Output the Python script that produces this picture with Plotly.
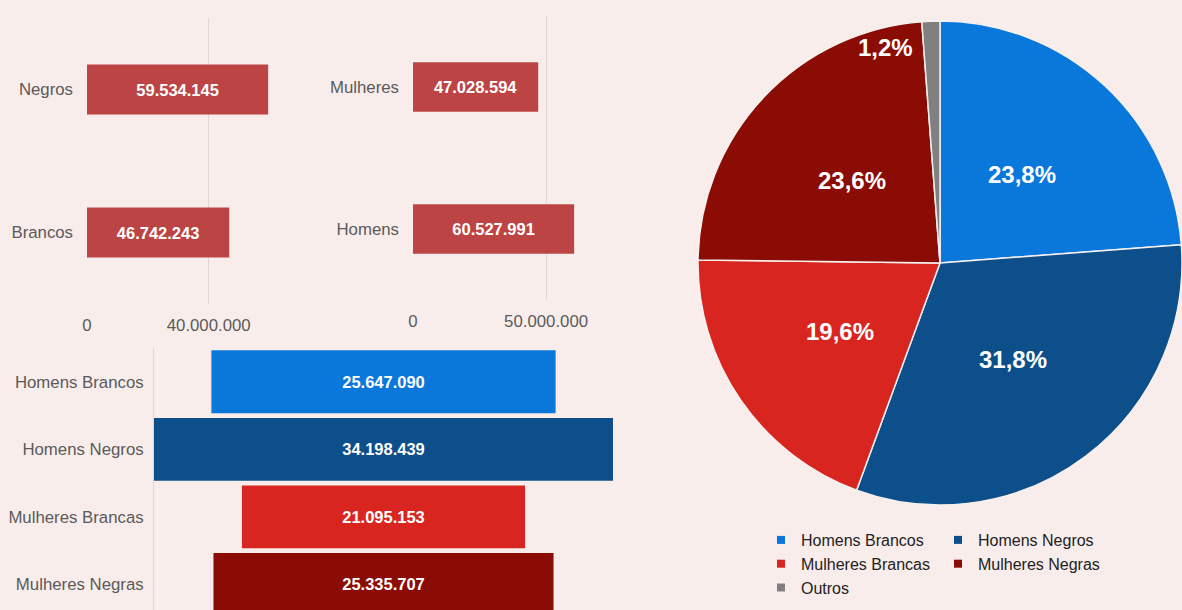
import math
import plotly.graph_objects as go

# ---------------- data ----------------
cor_categorias = ["Negros", "Brancos"]
cor_valores = [59534145, 46742243]
cor_ticks = [0, 40000000]

sexo_categorias = ["Mulheres", "Homens"]
sexo_valores = [47028594, 60527991]
sexo_ticks = [0, 50000000]

grupo_categorias = ["Homens Brancos", "Homens Negros", "Mulheres Brancas", "Mulheres Negras"]
grupo_valores = [25647090, 34198439, 21095153, 25335707]

pie_categorias = ["Homens Brancos", "Homens Negros", "Mulheres Brancas", "Mulheres Negras", "Outros"]
pie_percentuais = [23.8, 31.8, 19.6, 23.6, 1.2]

# ---------------- style ----------------
W, H = 1182, 610
BG = "#f9edeb"
BAR = "#bd4444"
CORES = ["#0a77db", "#0d4f8b", "#d9251f", "#8b0b05", "#808080"]
FONT = "Arial, Liberation Sans, sans-serif"
TICK = "#5a5a5a"
GRID = "#dcd6d5"

# pie placement (px)
PIE_L, PIE_R, PIE_T, PIE_B = 698, 1182, 21, 505


def fmt_int(v):
    return f"{v:,}".replace(",", ".")


def fmt_pct(p):
    return f"{p:.1f}".replace(".", ",") + "%"


def dom_x(a, b):
    return [a / W, b / W]


def dom_y(top, bottom):
    return [(H - bottom) / H, (H - top) / H]


label_font = dict(family=FONT, size=16.5, color="white", weight="bold")
pie_font = dict(family=FONT, size=24, color="white", weight="bold")

fig = go.Figure()

fig.add_trace(go.Bar(
    x=cor_valores, y=cor_categorias, orientation="h", width=0.35,
    marker=dict(color=BAR, line=dict(width=0)),
    text=[fmt_int(v) for v in cor_valores], texttemplate="%{text}",
    textposition="inside", insidetextanchor="middle", textfont=label_font,
    xaxis="x", yaxis="y", showlegend=False, hoverinfo="skip"))

fig.add_trace(go.Bar(
    x=sexo_valores, y=sexo_categorias, orientation="h", width=0.35,
    marker=dict(color=BAR, line=dict(width=0)),
    text=[fmt_int(v) for v in sexo_valores], texttemplate="%{text}",
    textposition="inside", insidetextanchor="middle", textfont=label_font,
    xaxis="x2", yaxis="y2", showlegend=False, hoverinfo="skip"))

fig.add_trace(go.Funnel(
    x=grupo_valores, y=grupo_categorias,
    marker=dict(color=CORES[:4], line=dict(width=0)),
    connector=dict(visible=False),
    text=[fmt_int(v) for v in grupo_valores], texttemplate="%{text}",
    textposition="inside", insidetextanchor="middle", textfont=label_font,
    xaxis="x3", yaxis="y3", showlegend=False, hoverinfo="skip"))

fig.add_trace(go.Pie(
    labels=pie_categorias, values=pie_percentuais, sort=False,
    direction="clockwise", rotation=0,
    marker=dict(colors=CORES, line=dict(color="#f6f0ef", width=1.5)),
    textinfo="none",
    domain=dict(x=dom_x(PIE_L, PIE_R), y=dom_y(PIE_T, PIE_B)),
    showlegend=False, hoverinfo="skip"))

# legend entries (two columns)
for i, (nome, cor) in enumerate(zip(pie_categorias, CORES)):
    fig.add_trace(go.Scatter(
        x=[None], y=[None], mode="markers", name=nome,
        marker=dict(symbol="square", size=8, color=cor),
        legend="legend" if i % 2 == 0 else "legend2",
        xaxis="x3", yaxis="y3", hoverinfo="skip"))

# pie percentage labels, positioned from the slice angles
pie_total = sum(pie_percentuais)
cx = (PIE_L + PIE_R) / 2
cy = (PIE_T + PIE_B) / 2
rad = min(PIE_R - PIE_L, PIE_B - PIE_T) / 2
annotations = []
start = 0.0
for v in pie_percentuais:
    pct = v / pie_total * 100
    sweep = 360 * v / pie_total
    mid = start + sweep / 2
    if pct >= 5:
        rl, ang = 0.5 * rad, mid
    else:
        rl, ang = 0.92 * rad, mid - 12
    px = cx + rl * math.sin(math.radians(ang))
    py = cy - rl * math.cos(math.radians(ang))
    annotations.append(dict(text=fmt_pct(pct), x=px / W, y=(H - py) / H,
                            xref="paper", yref="paper", xanchor="center",
                            yanchor="middle", showarrow=False, font=pie_font))
    start += sweep

tick_font = dict(family=FONT, size=16.8, color=TICK)
legend_font = dict(family=FONT, size=16, color="#222")

fig.update_layout(
    width=W, height=H, margin=dict(l=0, r=0, t=0, b=0, autoexpand=False),
    paper_bgcolor=BG, plot_bgcolor=BG, separators=",.",
    font=dict(family=FONT, size=16.8, color=TICK),
    funnelgap=0.07,
    xaxis=dict(domain=dom_x(87, 300), range=[0, 70e6], tickvals=cor_ticks,
               tickformat=",d", showgrid=True, gridcolor=GRID, zeroline=False,
               showline=False, ticks="", ticklabelstandoff=9, tickfont=tick_font,
               anchor="y", fixedrange=True),
    yaxis=dict(domain=dom_y(18, 304), autorange="reversed", showgrid=False,
               zeroline=False, showline=False, ticks="", ticklabelstandoff=13,
               tickfont=tick_font, anchor="x", fixedrange=True),
    xaxis2=dict(domain=dom_x(413, 610), range=[0, 74e6], tickvals=sexo_ticks,
                tickformat=",d", showgrid=True, gridcolor=GRID, zeroline=False,
                showline=False, ticks="", ticklabelstandoff=9, tickfont=tick_font,
                anchor="y2", fixedrange=True),
    yaxis2=dict(domain=dom_y(16, 300), autorange="reversed", showgrid=False,
                zeroline=False, showline=False, ticks="", ticklabelstandoff=13,
                tickfont=tick_font, anchor="x2", fixedrange=True),
    xaxis3=dict(domain=dom_x(154, 613),
                range=[-max(grupo_valores) / 2, max(grupo_valores) / 2],
                visible=False, anchor="y3", fixedrange=True),
    yaxis3=dict(domain=dom_y(348, 610), range=[3.38, -0.5], showgrid=False,
                zeroline=False, showline=True, linecolor=GRID, linewidth=1,
                ticks="", ticklabelstandoff=6, tickfont=tick_font,
                anchor="x3", fixedrange=True),
    legend=dict(x=761 / W, y=(H - 523) / H, xanchor="left", yanchor="top",
                orientation="v", font=legend_font,
                bgcolor="rgba(0,0,0,0)", tracegroupgap=0),
    legend2=dict(x=938 / W, y=(H - 523) / H, xanchor="left", yanchor="top",
                 orientation="v", font=legend_font,
                 bgcolor="rgba(0,0,0,0)", tracegroupgap=0),
    annotations=annotations,
)

fig.write_html("out.html")
